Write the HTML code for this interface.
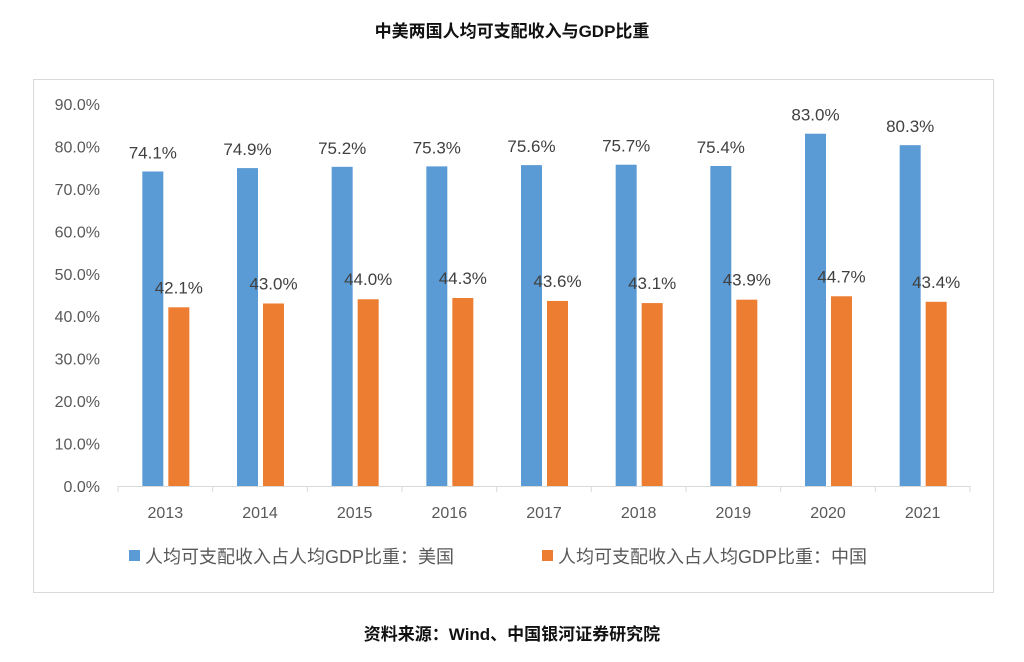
<!DOCTYPE html>
<html><head><meta charset="utf-8"><style>
body{margin:0;background:#fff;width:1024px;height:657px;overflow:hidden;font-family:"Liberation Sans","Noto Sans CJK SC",sans-serif}
</style></head><body>
<svg width="1024" height="657" font-family="Liberation Sans, Noto Sans CJK SC, sans-serif">
<text x="512" y="37" text-anchor="middle" font-size="17" font-weight="bold" fill="#111">中美两国人均可支配收入与GDP比重</text>
<rect x="33.5" y="79.5" width="960" height="513" fill="none" stroke="#d9d9d9"/>
<g id="yaxis"></g><g id="bars"></g><g id="xaxis"></g>
<g>
<rect x="129" y="550" width="11" height="11" fill="#5b9bd5"/>
<text x="145" y="563" font-size="18" fill="#595959">人均可支配收入占人均GDP比重：美国</text>
<rect x="542" y="550" width="11" height="11" fill="#ed7d31"/>
<text x="558" y="563" font-size="18" fill="#595959">人均可支配收入占人均GDP比重：中国</text>
</g>
<text x="512" y="640" text-anchor="middle" font-size="17" font-weight="bold" fill="#111">资料来源：Wind、中国银河证券研究院</text>
</svg>
<script>
const categories=["2013","2014","2015","2016","2017","2018","2019","2020","2021"];
const usValues=[74.1,74.9,75.2,75.3,75.6,75.7,75.4,83.0,80.3];
const cnValues=[42.1,43.0,44.0,44.3,43.6,43.1,43.9,44.7,43.4];
const yTicks=[0,10,20,30,40,50,60,70,80,90];
const NS="http://www.w3.org/2000/svg";
const x0=118,x1=970,y0=486,y90=104;
const yS=v=>y0-(v/90)*(y0-y90);
const bw=(x1-x0)/categories.length;
const xC=i=>x0+bw*(i+0.5);
function mk(tag,attrs,parent,txt){const e=document.createElementNS(NS,tag);for(const k in attrs)e.setAttribute(k,attrs[k]);if(txt!==undefined)e.textContent=txt;document.getElementById(parent).appendChild(e);return e;}
yTicks.forEach(t=>{
 const e=mk("text",{x:100,y:yS(t)+6,"text-anchor":"end","font-size":"16",fill:"#595959"},"yaxis",t.toFixed(1)+"%");
 
 
});
const ax=mk("line",{x1:x0,x2:x1,y1:y0+0.5,y2:y0+0.5,stroke:"#d9d9d9"},"xaxis");


for(let i=0;i<=categories.length;i++){
 const tk=mk("line",{x1:x0+bw*i,x2:x0+bw*i,y1:y0,y2:y0+6,stroke:"#d9d9d9"},"xaxis");
 
 
}
categories.forEach((c,i)=>{
 const l=mk("text",{x:xC(i),y:518,"text-anchor":"middle","font-size":"16",fill:"#595959"},"xaxis",c);
 
 
 const bx=xC(i)-23, ox=xC(i)+3;
 const b=mk("rect",{x:bx,y:yS(usValues[i]),width:21,height:y0-yS(usValues[i]),fill:"#5b9bd5"},"bars");
 
 
 const o=mk("rect",{x:ox,y:yS(cnValues[i]),width:21,height:y0-yS(cnValues[i]),fill:"#ed7d31"},"bars");
 
 
 const lb=mk("text",{x:bx+10.5,y:yS(usValues[i])-13,"text-anchor":"middle","font-size":"17",fill:"#404040"},"bars",usValues[i].toFixed(1)+"%");
 
 
 const lo=mk("text",{x:ox+10.5,y:yS(cnValues[i])-14,"text-anchor":"middle","font-size":"17",fill:"#404040"},"bars",cnValues[i].toFixed(1)+"%");
 
 
});
</script>
</body></html>
